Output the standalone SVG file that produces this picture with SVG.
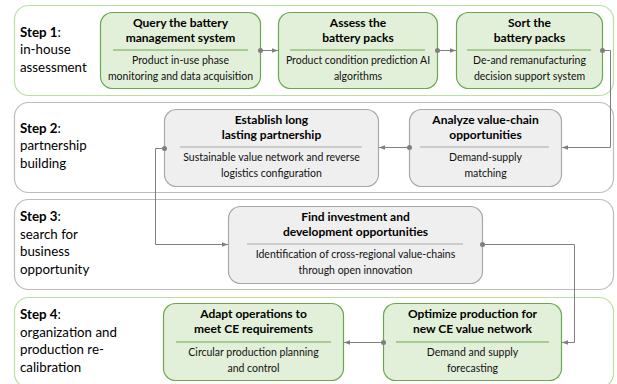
<svg xmlns="http://www.w3.org/2000/svg" width="617" height="384" viewBox="0 0 617 384">
  <defs>
    <style>
      .band-g { fill: #ffffff; stroke: #b9dfa3; stroke-width: 1.2; }
      .band-n { fill: #ffffff; stroke: #bcbcbc; stroke-width: 1.2; }
      .node-g rect { fill: #e2f0d9; stroke: #6aa84f; stroke-width: 1.2; }
      .node-n rect { fill: #efefef; stroke: #a9a9a9; stroke-width: 1.2; }
      .node-g line { stroke: #6aa84f; stroke-width: 1; }
      .node-n line { stroke: #a9a9a9; stroke-width: 1; }
      .title { font-family: Lato, "Liberation Sans", sans-serif; font-weight: bold; font-size: 12px; fill: #000; text-anchor: middle; }
      .sub { font-family: Lato, "Liberation Sans", sans-serif; font-size: 10.5px; fill: #111; text-anchor: middle; }
      .step { font-family: Lato, "Liberation Sans", sans-serif; font-size: 13.3px; fill: #000; }
      .step tspan.b { font-weight: bold; }
      .conn { fill: none; stroke: #7f7f7f; stroke-width: 1; marker-start: url(#dot); marker-end: url(#arrow); }
    </style>
    <marker id="arrow" viewBox="0 0 6 6" refX="6" refY="3" markerWidth="6" markerHeight="6" markerUnits="userSpaceOnUse" orient="auto">
      <path d="M0,0.8 L6,3 L0,5.2 z" fill="#7f7f7f"/>
    </marker>
    <marker id="dot" viewBox="0 0 6 6" refX="3" refY="3" markerWidth="5" markerHeight="5" markerUnits="userSpaceOnUse">
      <circle cx="3" cy="3" r="3" fill="#7f7f7f"/>
    </marker>
  </defs>

  <!-- step bands -->
  <g id="bands">
    <rect class="band-g" x="14.5" y="5.5" width="599" height="90" rx="14"/>
    <rect class="band-n" x="14.5" y="102.5" width="599" height="90" rx="14"/>
    <rect class="band-n" x="14.5" y="199.5" width="599" height="90" rx="14"/>
    <rect class="band-g" x="14.5" y="297.5" width="599" height="90" rx="14"/>
  </g>

  <!-- step captions -->
  <g id="step-labels">
    <text class="step" x="20" y="37"><tspan class="b">Step 1</tspan>:</text>
    <text class="step" x="20" y="54">in-house</text>
    <text class="step" x="20" y="72">assessment</text>

    <text class="step" x="20" y="133"><tspan class="b">Step 2</tspan>:</text>
    <text class="step" x="20" y="150">partnership</text>
    <text class="step" x="20" y="168">building</text>

    <text class="step" x="20" y="221"><tspan class="b">Step 3</tspan>:</text>
    <text class="step" x="20" y="238.5">search for</text>
    <text class="step" x="20" y="256">business</text>
    <text class="step" x="20" y="273.5">opportunity</text>

    <text class="step" x="20" y="319"><tspan class="b">Step 4</tspan>:</text>
    <text class="step" x="20" y="336.5">organization and</text>
    <text class="step" x="20" y="354">production re-</text>
    <text class="step" x="20" y="371.5">calibration</text>
  </g>

  <!-- step 1 nodes -->
  <g id="query-bms" class="node-g">
    <rect x="100.5" y="12.5" width="160" height="76" rx="12"/>
    <line x1="113" y1="50" x2="248" y2="50"/>
    <text class="title" x="180.5" y="27">Query the battery</text>
    <text class="title" x="180.5" y="42">management system</text>
    <text class="sub" x="180.5" y="64">Product in-use phase</text>
    <text class="sub" x="180.5" y="80">monitoring and data acquisition</text>
  </g>
  <g id="assess-packs" class="node-g">
    <rect x="278.5" y="12.5" width="159" height="76" rx="12"/>
    <line x1="290" y1="50" x2="425" y2="50"/>
    <text class="title" x="358" y="27">Assess the</text>
    <text class="title" x="358" y="42">battery packs</text>
    <text class="sub" x="358" y="64">Product condition prediction AI</text>
    <text class="sub" x="358" y="80">algorithms</text>
  </g>
  <g id="sort-packs" class="node-g">
    <rect x="456.5" y="12.5" width="146" height="76" rx="12"/>
    <line x1="467" y1="50" x2="591" y2="50"/>
    <text class="title" x="529.5" y="27">Sort the</text>
    <text class="title" x="529.5" y="42">battery packs</text>
    <text class="sub" x="529.5" y="64">De-and remanufacturing</text>
    <text class="sub" x="529.5" y="80">decision support system</text>
  </g>

  <!-- step 2 nodes -->
  <g id="partnership" class="node-n">
    <rect x="164.5" y="109.5" width="214" height="77" rx="12"/>
    <line x1="180" y1="147" x2="362" y2="147"/>
    <text class="title" x="271.5" y="124">Establish long</text>
    <text class="title" x="271.5" y="139">lasting partnership</text>
    <text class="sub" x="271.5" y="161">Sustainable value network and reverse</text>
    <text class="sub" x="271.5" y="177">logistics configuration</text>
  </g>
  <g id="value-chain" class="node-n">
    <rect x="409.5" y="109.5" width="152" height="77" rx="12"/>
    <line x1="420" y1="147" x2="549" y2="147"/>
    <text class="title" x="485.5" y="124">Analyze value-chain</text>
    <text class="title" x="485.5" y="139">opportunities</text>
    <text class="sub" x="485.5" y="161">Demand-supply</text>
    <text class="sub" x="485.5" y="177">matching</text>
  </g>

  <!-- step 3 node -->
  <g id="investment" class="node-n">
    <rect x="228.5" y="206.5" width="254" height="77" rx="12"/>
    <line x1="247" y1="244" x2="463" y2="244"/>
    <text class="title" x="355.5" y="221">Find investment and</text>
    <text class="title" x="355.5" y="236">development opportunities</text>
    <text class="sub" x="355.5" y="258">Identification of cross-regional value-chains</text>
    <text class="sub" x="355.5" y="274">through open innovation</text>
  </g>

  <!-- step 4 nodes -->
  <g id="adapt-operations" class="node-g">
    <rect x="163.5" y="303.5" width="180" height="77" rx="12"/>
    <line x1="176" y1="342" x2="331" y2="342"/>
    <text class="title" x="253.5" y="318">Adapt operations to</text>
    <text class="title" x="253.5" y="333">meet CE requirements</text>
    <text class="sub" x="253.5" y="356">Circular production planning</text>
    <text class="sub" x="253.5" y="372">and control</text>
  </g>
  <g id="optimize-production" class="node-g">
    <rect x="383.5" y="303.5" width="178" height="77" rx="12"/>
    <line x1="396" y1="342" x2="549" y2="342"/>
    <text class="title" x="472.5" y="318">Optimize production for</text>
    <text class="title" x="472.5" y="333">new CE value network</text>
    <text class="sub" x="472.5" y="356">Demand and supply</text>
    <text class="sub" x="472.5" y="372">forecasting</text>
  </g>

  <!-- connectors -->
  <g id="connectors">
    <path class="conn" d="M260.5,50.5 L278,50.5"/>
    <path class="conn" d="M437.5,50.5 L456,50.5"/>
    <path class="conn" d="M602.5,50.5 L610.5,50.5 L610.5,147.5 L562,147.5"/>
    <path class="conn" d="M409.5,147.5 L379,147.5"/>
    <path class="conn" d="M164.5,148.5 L155.5,148.5 L155.5,244.5 L228,244.5"/>
    <path class="conn" d="M482.5,244.5 L574.5,244.5 L574.5,342.5 L562,342.5"/>
    <path class="conn" d="M383.5,342.5 L344,342.5"/>
  </g>
</svg>
